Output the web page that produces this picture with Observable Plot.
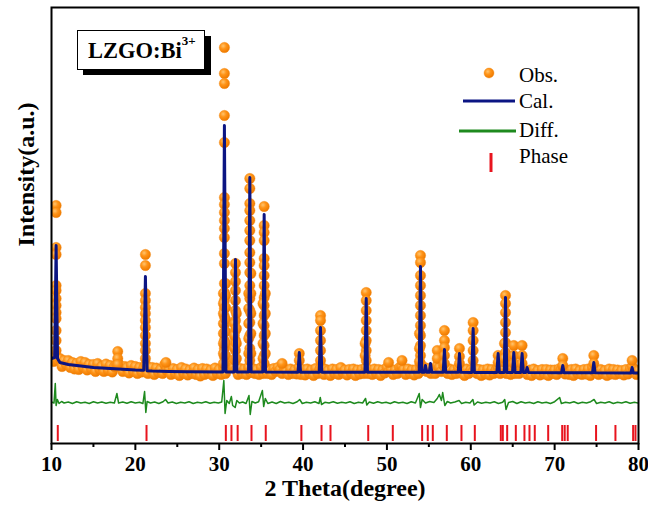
<!DOCTYPE html>
<html>
<head>
<meta charset="utf-8">
<script src="https://cdn.jsdelivr.net/npm/d3@7"></script>
<script src="https://cdn.jsdelivr.net/npm/@observablehq/plot@0.6"></script>
<style>
  html, body { margin: 0; padding: 0; background: #fff; }
  #chart { width: 648px; height: 513px; }
</style>
</head>
<body>
<div id="chart"></div>
<script>
// ---- Observed profile (background scan, 0.25° grid from 10° to 80°) ----
const obsStart = 10.0;
const obsStep = 0.25;
const obsBase = [
  900,820,880,830, 850,770,830,790, 830,760,810,745, 800,740,820,760, 810,735,790,745,
  790,720,800,740, 770,720,795,730, 780,715,770,790, 800,760,720,770, 760,705,780,720,
  770,700,760,715, 760,790,700,750, 760,690,755,710, 740,700,790,730, 745,690,750,700,
  740,680,760,700, 745,685,735,700, 755,690,740,675, 750,690,745,700, 735,680,755,700,
  740,690,760,700, 780,770,790,760, 740,690,750,700, 745,690,760,710, 750,700,740,690,
  760,700,760,700, 740,690,750,720, 760,740,700,750, 730,690,745,700, 735,695,760,690,
  740,685,745,700, 735,680,750,700, 745,760,690,740, 730,680,745,700, 740,690,760,705,
  735,685,740,700, 745,680,735,695, 740,700,760,700, 735,690,745,700, 740,680,735,705,
  760,720,740,690, 735,700,760,770, 740,690,745,700, 735,685,740,700, 760,740,760,720,
  750,700,740,700, 780,760,720,780, 750,700,745,690, 735,700,760,705, 740,680,745,700,
  735,720,750,700, 740,680,735,695, 745,685,740,700, 735,760,700,740, 750,700,740,690,
  760,700,750,700, 760,740,720,690, 735,680,745,700, 730,685,740,695, 740,680,735,700,
  735,690,745,740, 760,695,735,690, 740,680,745,700, 730,690,740,695, 745,680,760,720,
  735,690,740,700, 730,680,745,695, 740,690,735,700, 730,685,740,695, 745,770,735,690,
  730
];

// ---- Observed points on the peaks (stacks of points at each reflection) ----
const obsPeakX = [10.55, 17.9, 21.2, 23.65, 30.62, 30.5, 30.76, 31.94, 31.8, 32.05,
  33.65, 33.52, 33.78, 35.36, 35.22, 35.5, 37.5, 39.55, 42.08, 47.53, 47.4, 50.2, 51.8,
  54.0, 53.88, 56.0, 56.86, 58.65, 60.28, 63.26, 64.14, 64.02, 65.13, 66.12, 70.97, 74.67, 79.24];
const obsPeakY = [
  [2380,2310,1960,1890,1580,1530,1450,1380,1310,1250,1130,1030,930],
  [920,850,790],
  [1890,1780,1500,1430,1360,1300,1230,1160,1080,1000,930,850],
  [810],
  [3960,3700,3600,3280,3010,2460,2390,2310,2230,2150,2060,1900,1800,1600,1510,1430,1350,1270,1190,1110,1030,950,870,800],
  [1500,1400,1300,1200,1100,1000,900,800],
  [1600,1480,1360,1240,1120,1000,880],
  [1800,1710,1620,1530,1430,1330,1230,1130,1030,930,830],
  [1200,1080,960,840],
  [1300,1150,1000,850],
  [2650,2550,2400,2330,2230,2130,2030,1910,1810,1710,1580,1450,1330,1210,1080,950,830],
  [1500,1350,1200,1050,900],
  [1700,1500,1300,1100,900],
  [2370,2180,2110,2030,1850,1780,1680,1580,1460,1380,1280,1180,1080,980,880,800],
  [1400,1200,1000,850],
  [1500,1300,1100,900],
  [800],
  [900,830],
  [1280,1230,1130,1030,930,830],
  [1510,1430,1330,1230,1130,1030,930,830],
  [1000,880],
  [810],
  [830],
  [1880,1810,1680,1580,1480,1380,1280,1180,1080,980,880,800],
  [1100,950,820],
  [930,850],
  [1130,1030,960,880,800],
  [950,870,800],
  [1210,1130,1030,930,830],
  [880,810],
  [1480,1400,1310,1210,1110,1010,910,810],
  [1000,850],
  [980,880,800],
  [980,880,800],
  [850,780],
  [880,800],
  [830]
];

// ---- Calculated profile ----
const calX = [10.0,10.38,10.55,10.72,11,12,13,14,15,16,17,18,19,20,21.0,21.2,21.4,22,24,26,
  30.45,30.62,30.8,31.78,31.94,32.1,33.5,33.65,33.8,35.2,35.36,35.52,39.4,39.55,39.7,
  41.93,42.08,42.23,47.38,47.53,47.68,53.85,54.0,54.15,54.45,54.6,54.75,55.05,55.2,55.35,
  56.71,56.86,57.01,58.5,58.65,58.8,60.13,60.28,60.43,63.11,63.26,63.41,63.99,64.14,64.29,
  64.98,65.13,65.28,65.97,66.12,66.27,66.57,66.72,66.87,70.82,70.97,71.12,74.52,74.67,74.82,
  79.09,79.24,79.39,80];
const calY = [850,860,1980,850,810,790,780,770,760,755,750,745,740,735,732,1670,728,725,720,718,
  715,3180,715,715,1840,715,715,2660,715,715,2290,715,713,910,713,
  712,1160,712,712,1450,712,712,1770,712,712,780,712,712,800,712,
  712,940,712,712,900,712,710,1150,710,710,900,710,710,1460,710,
  710,910,710,710,900,710,710,760,710,707,780,707,707,810,707,
  705,760,705,705];

// ---- Difference curve ----
const diffX = [10.0,10.3,10.45,10.55,10.7,10.9,11.2,11.5,12.0,12.5,13.0,13.5,14.0,14.5,15.0,15.5,16.0,16.5,17.0,17.5,17.8,18.0,18.5,19.0,19.5,20.0,20.5,20.9,21.1,21.25,21.4,21.8,22.3,22.8,23.3,23.6,23.9,24.4,24.9,25.4,25.9,26.4,26.9,27.4,27.9,28.4,28.9,29.4,29.9,30.3,30.55,30.7,30.9,31.2,31.45,31.6,31.9,32.1,32.4,32.8,33.2,33.55,33.7,33.9,34.3,34.7,35.15,35.3,35.5,35.8,36.3,36.8,37.3,37.8,38.3,38.8,39.3,39.6,39.9,40.4,40.9,41.4,41.9,42.05,42.2,42.6,43.1,43.6,44.1,44.6,45.1,45.6,46.1,46.6,47.1,47.45,47.6,47.9,48.4,48.9,49.4,49.9,50.4,50.9,51.4,51.9,52.4,52.9,53.4,53.85,54.0,54.2,54.6,55.1,55.6,56.0,56.25,56.5,56.65,56.9,57.2,57.6,58.1,58.6,58.9,59.4,59.9,60.25,60.4,60.8,61.3,61.8,62.3,62.8,63.3,63.8,64.05,64.2,64.5,65.0,65.5,66.0,66.5,67.0,67.5,68.0,68.5,69.0,69.5,70.0,70.6,70.8,71.3,71.8,72.3,72.8,73.3,73.8,74.3,74.7,75.0,75.5,76.0,76.5,77.0,77.5,78.0,78.5,79.0,79.5,80.0];
const diffY = [415,405,600,380,440,400,420,405,415,400,418,405,412,400,418,405,415,402,412,405,500,405,415,402,418,405,412,400,520,310,420,405,415,400,418,440,405,415,400,412,405,418,400,412,405,418,402,412,405,415,630,300,430,400,470,380,360,430,405,415,400,480,290,420,405,418,530,370,450,400,415,400,420,405,412,400,418,440,400,412,405,418,400,460,390,412,405,418,402,412,405,418,400,412,405,450,385,415,402,418,405,412,400,418,405,412,400,418,405,500,360,440,405,420,410,450,490,430,510,380,420,405,415,430,400,412,405,440,385,415,402,412,405,418,400,412,440,340,410,420,400,418,405,412,400,418,405,412,400,418,460,400,412,405,418,400,412,405,418,440,400,412,405,418,400,412,405,418,402,412,405];

// ---- Bragg reflection positions ----
const phasePos = [10.75,21.33,30.79,31.46,32.2,33.85,35.55,39.8,42.2,43.27,47.77,50.7,54.2,54.87,55.47,57.14,58.89,60.48,63.58,63.82,64.34,65.37,66.4,67.0,67.63,69.23,70.9,71.2,71.56,74.94,77.25,79.36,79.64];
const phaseLow = 20, phaseHigh = 180;

const xTicks = [10,20,30,40,50,60,70,80];
const xMinorTicks = [15,25,35,45,55,65,75];
const legendLabels = ["Obs.","Cal.","Diff.","Phase"];
const sampleLabel = "LZGO:Bi";
const sampleSup = "3+";

// ---- build tables ----
const obsBaseData = obsBase.map((v, i) => ({x: obsStart + i * obsStep, y: v}));
const obsPeakData = obsPeakX.flatMap((x, i) => obsPeakY[i].map(y => ({x, y})));
const obsData = obsBaseData.concat(obsPeakData);
const calData = calX.map((x, i) => ({x, y: calY[i]}));
const diffData = diffX.map((x, i) => ({x, y: diffY[i]}));

const serif = "'Liberation Serif', 'Times New Roman', 'DejaVu Serif', serif";
const ORANGE = "url(#ball)";
const NAVY = "#0b1583";
const GREEN = "#1e8a1e";
const RED = "#e8141e";

const plot = Plot.plot({
  width: 648,
  height: 513,
  marginLeft: 51,
  marginRight: 10,
  marginTop: 7,
  marginBottom: 70,
  style: {fontFamily: serif, background: "#fff", overflow: "visible"},
  x: {domain: [10, 80]},
  y: {domain: [0, 4360], axis: null},
  marks: [
    Plot.dot(obsData, {x: "x", y: "y", r: 5.2, fill: ORANGE, stroke: "#f28a16", strokeWidth: 0.4, clip: true}),
    Plot.line(calData, {x: "x", y: "y", stroke: NAVY, strokeWidth: 3, clip: true}),
    Plot.line(diffData, {x: "x", y: "y", stroke: GREEN, strokeWidth: 1.5, clip: true}),
    Plot.ruleX(phasePos, {x: d => d, y1: phaseLow, y2: phaseHigh, stroke: RED, strokeWidth: 2}),
    Plot.axisX({ticks: xTicks, tickSize: 7, tickPadding: 6, tickFormat: d => String(d), fontSize: 21, fontWeight: "bold", label: null, stroke: "black", strokeWidth: 2}),
    Plot.axisX({ticks: xMinorTicks, tickSize: 4, tickFormat: null, text: null, label: null, stroke: "black", strokeWidth: 2}),
    Plot.frame({stroke: "black", strokeWidth: 2}),
    Plot.text(["2 Theta(degree)"], {frameAnchor: "bottom", dy: 52, fontSize: 24, fontWeight: "bold", fill: "black"}),
    Plot.text(["Intensity(a.u.)"], {frameAnchor: "left", dx: -25, dy: 21, rotate: -90, fontSize: 24, fontWeight: "bold", fill: "black"})
  ]
});

// gradient for the observed spheres
const svg = d3.select(plot);
const defs = svg.insert("defs", ":first-child");
const g = defs.append("radialGradient").attr("id", "ball").attr("cx", "38%").attr("cy", "35%").attr("r", "65%");
g.append("stop").attr("offset", "0").attr("stop-color", "#ffc46e");
g.append("stop").attr("offset", "0.45").attr("stop-color", "#ff9418");
g.append("stop").attr("offset", "1").attr("stop-color", "#ee7a00");

// legend
const leg = svg.append("g").attr("font-family", serif).attr("font-size", 21).attr("fill", "black").attr("text-anchor", "start");
leg.append("circle").attr("cx", 489).attr("cy", 73).attr("r", 5).attr("fill", "url(#ball)").attr("stroke", "#f28a16").attr("stroke-width", 0.4);
leg.append("line").attr("x1", 463).attr("x2", 515).attr("y1", 101).attr("y2", 101).attr("stroke", NAVY).attr("stroke-width", 3);
leg.append("line").attr("x1", 459).attr("x2", 516).attr("y1", 131).attr("y2", 131).attr("stroke", GREEN).attr("stroke-width", 3);
leg.append("line").attr("x1", 491).attr("x2", 491).attr("y1", 153).attr("y2", 172).attr("stroke", RED).attr("stroke-width", 3);
const legY = [82, 108, 137, 163];
legendLabels.forEach((t, i) => leg.append("text").attr("x", 519).attr("y", legY[i]).text(t));

// sample label box
const box = svg.append("g").attr("font-family", serif).attr("text-anchor", "start");
box.append("rect").attr("x", 83).attr("y", 36).attr("width", 128).attr("height", 39).attr("fill", "black");
box.append("rect").attr("x", 77.5).attr("y", 30.5).attr("width", 127).attr("height", 39).attr("fill", "white").attr("stroke", "black").attr("stroke-width", 1);
const lbl = box.append("text").attr("x", 88).attr("y", 58).attr("font-size", 22.5).attr("font-weight", "bold").attr("fill", "black");
lbl.append("tspan").text(sampleLabel);
lbl.append("tspan").attr("dy", -13).attr("font-size", 13).text(sampleSup);

document.getElementById("chart").appendChild(plot);
</script>
</body>
</html>
